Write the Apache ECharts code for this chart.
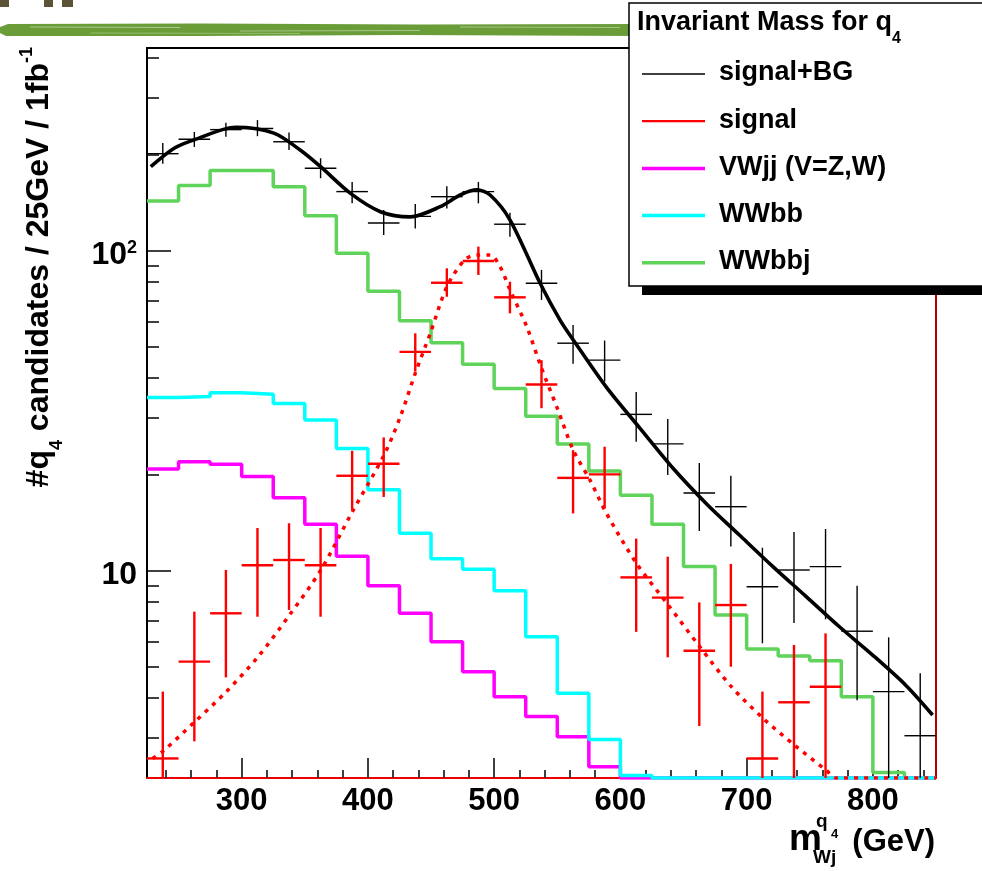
<!DOCTYPE html>
<html>
<head>
<meta charset="utf-8">
<script src="https://cdn.jsdelivr.net/npm/echarts@6/dist/echarts.min.js"></script>
<style>html,body{margin:0;padding:0;background:#fff;}#c{width:982px;height:871px;}</style>
</head>
<body>
<div id="c"></div>
<script>
// ---------------- data ----------------
const BIN_WIDTH = 25;
const binLow = [225,250,275,300,325,350,375,400,425,450,475,500,525,550,575,600,625,650,675,700,725,750,775,800,825];
const histEnd = 850;
const wwbbj = [143,160,178,178,158.5,128.6,98.1,74.7,60.4,51.6,44.2,37.1,30.4,24.9,20.5,17.2,13.96,10.3,7.27,5.69,5.41,5.23,4.04,2.34,2.25];
const wwbb  = [34.8,35.0,36.0,35.6,33.3,29.6,24.1,17.9,13.1,10.9,10.1,8.66,6.22,4.14,2.97,2.29,2.25,2.25,2.25,2.25,2.25,2.25,2.25,2.25,2.25];
const vwjj  = [20.8,21.9,21.5,19.7,16.9,13.96,11.1,8.98,7.36,6.0,4.83,4.04,3.50,3.03,2.44,2.25,2.25,2.25,2.25,2.25,2.25,2.25,2.25,2.25,2.25];

const sigX  = [237.5,262.5,287.5,312.5,337.5,362.5,387.5,412.5,437.5,462.5,487.5,512.5,537.5,562.5,587.5,612.5,637.5,662.5,687.5,712.5,737.5,762.5];
const sigY  = [2.59,5.2,7.36,10.4,10.8,10.4,19.8,21.6,48.3,79.4,92.9,71.5,38.2,19.5,20.0,9.53,8.24,5.62,7.81,2.59,3.88,4.34];
const sigLo = [2.25,2.93,4.64,7.18,7.54,7.18,15.5,17.0,41.9,71.8,84.0,63.7,32.2,15.1,15.7,6.44,5.36,3.27,5.01,2.25,2.25,2.25];
const sigHi = [4.19,7.45,10.05,13.6,14.07,13.6,23.7,26.1,55.2,88.1,103,80,45.5,23.8,24.4,12.6,11.06,7.96,10.5,4.19,5.86,6.37];

const totX  = [237.5,262.5,287.5,312.5,337.5,362.5,387.5,412.5,437.5,462.5,487.5,512.5,537.5,562.5,587.5,612.5,637.5,662.5,687.5,712.5,737.5,762.5,787.5,812.5,837.5];
const totY  = [201,223,239,241,219,181,153,122,128,147.5,153,121,79.1,51.4,45.5,30.8,24.9,17.5,15.85,8.91,10.05,10.3,6.47,4.19,3.05];
const totLo = [187,211,227,228,206.5,168.5,140.6,112,117.4,135.6,140.6,110.6,70.2,44.3,39.0,25.3,19.9,13.3,11.9,5.93,6.86,7.05,3.94,2.25,2.25];
const totHi = [217,235,251,256,234,194.5,164,134,140,159,164,131.5,87.1,58.6,52.4,36.2,29.8,21.7,19.8,11.8,13.2,13.5,8.97,6.19,4.78];

const totFitX = [228,246.5,262.3,295.3,325.5,346.6,362.5,386.2,409.9,433.6,457.3,473.1,486.3,496.8,512.6,536.4,552.2,562.7,589,615.4,641.7,668.1,694.5,720.8,747.2,773.5,799.8,826.2,847.3];
const totFitY = [183,209,222,243,233,206,183,151,132.4,127.6,137.3,149.3,155,149.3,124.7,79.1,60.7,52.6,37.4,27.9,20.9,16.2,12.9,10.3,8.3,6.68,5.45,4.38,3.54];

const sigFitX = [229.4,237.3,262.8,287.9,312.9,337.9,362.7,387.7,412.8,425.7,437.5,449.4,462.6,477.1,487.6,496.8,504.7,512.6,525.8,537,549.6,562.7,575.9,589,612.7,637.8,662.8,687.9,712.9,737.9,763,770.9,800,850];
const sigFitY = [2.59,2.72,3.37,4.19,5.38,7.27,10.05,15.3,23.0,30.3,41.4,55.2,77.2,94.0,97.0,97.0,89.1,75.4,57.9,43.5,32.5,23.8,19.2,15.1,10.55,7.82,5.79,4.34,3.46,2.85,2.38,2.25,2.25,2.25];

const xLabels = [300,400,500,600,700,800];
const xMinorTicks = [240,260,280,320,340,360,380,420,440,460,480,520,540,560,580,620,640,660,680,720,740,760,780,820,840];
const yMajorTicks = [10,100];
const yMinorTicks = [3,4,5,6,7,8,9,20,30,40,50,60,70,80,90,200,300,400];
const X_MIN = 225, X_MAX = 850, Y_MIN = 2.25, Y_MAX = 430;

const legendItems = [
  {name:'signal+BG', color:'#000000', width:1.3},
  {name:'signal', color:'#ff0000', width:2.2},
  {name:'VWjj (V=Z,W)', color:'#ff00ff', width:3.5},
  {name:'WWbb', color:'#00ffff', width:3.5},
  {name:'WWbbj', color:'#5fd35a', width:3.5}
];

// ---------------- helpers ----------------
const FONT = '"Liberation Sans", Arial, Helvetica, sans-serif';
function histData(vals){
  const d = binLow.map((x,i)=>[x, vals[i]]);
  d.push([histEnd, vals[vals.length-1]]);
  return d;
}
function crossRenderer(color, width){
  return function(params, api){
    const x = api.value(0), y = api.value(1), lo = api.value(2), hi = api.value(3);
    const a = api.coord([x - BIN_WIDTH/2, y]);
    const b = api.coord([x + BIN_WIDTH/2, y]);
    const c = api.coord([x, lo]);
    const d = api.coord([x, hi]);
    return {type:'group', children:[
      {type:'line', shape:{x1:a[0],y1:a[1],x2:b[0],y2:b[1]}, style:{stroke:color, lineWidth:width}},
      {type:'line', shape:{x1:c[0],y1:c[1],x2:d[0],y2:d[1]}, style:{stroke:color, lineWidth:width}}
    ]};
  };
}
function isPow10(v){ const l = Math.log10(v); return Math.abs(l - Math.round(l)) < 1e-6; }

// ---------------- legend (graphic) ----------------
const LX = 629, LY = 3;
const legendGraphics = [
  {type:'rect', z:100, shape:{x:642, y:286, width:360, height:9}, style:{fill:'#000'}},
  {type:'rect', z:101, shape:{x:LX, y:LY, width:370, height:283}, style:{fill:'#fff', stroke:'#000', lineWidth:1.5}},
  {type:'text', z:102, x:637, y:23, style:{
    text:'{t|Invariant Mass for q}{s|4}', align:'left', verticalAlign:'middle',
    rich:{
      t:{fontFamily:FONT, fontWeight:'bold', fontSize:27, lineHeight:48, fill:'#000'},
      s:{fontFamily:FONT, fontWeight:'bold', fontSize:16, verticalAlign:'bottom', fill:'#000'}
    }}}
];
legendItems.forEach((it, i)=>{
  const y = 74 + i*47.2;
  legendGraphics.push({type:'line', z:102, shape:{x1:642, y1:y, x2:705, y2:y}, style:{stroke:it.color, lineWidth:it.width}});
  legendGraphics.push({type:'text', z:102, x:719, y:y-1, style:{text:it.name, fontFamily:FONT, fontWeight:'bold', fontSize:27, fill:'#000', align:'left', verticalAlign:'middle'}});
});

// ---------------- decoration & titles ----------------
const decoGraphics = [
  {type:'polygon', z:0, shape:{points:[[0,27],[8,24],[200,23.5],[420,24.5],[640,24],[640,36],[400,35],[200,36],[6,36],[0,33]]}, style:{fill:'#6a9c38'}},
  {type:'line', z:1, shape:{x1:30,y1:27,x2:180,y2:27.5}, style:{stroke:'rgba(255,255,255,0.45)', lineWidth:1}},
  {type:'line', z:1, shape:{x1:240,y1:31,x2:420,y2:30.5}, style:{stroke:'rgba(255,255,255,0.4)', lineWidth:1}},
  {type:'line', z:1, shape:{x1:460,y1:27,x2:620,y2:27.5}, style:{stroke:'rgba(255,255,255,0.4)', lineWidth:1}},
  {type:'line', z:1, shape:{x1:90,y1:33,x2:300,y2:33.5}, style:{stroke:'rgba(180,210,150,0.6)', lineWidth:1}},
  {type:'rect', z:1, shape:{x:0,y:0,width:9,height:7}, style:{fill:'#5b5238'}},
  {type:'rect', z:1, shape:{x:44,y:0,width:9,height:7}, style:{fill:'#5b5238'}},
  {type:'rect', z:1, shape:{x:62,y:0,width:11,height:7}, style:{fill:'#5b5238'}},
  // y axis title
  {type:'text', z:50, x:39, y:47, rotation:Math.PI/2, style:{
    text:'{n|#q}{s|4}{n| candidates / 25GeV / 1fb}{p|-1}', align:'right', verticalAlign:'middle',
    rich:{
      n:{fontFamily:FONT, fontWeight:'bold', fontSize:32, lineHeight:54, fill:'#000'},
      s:{fontFamily:FONT, fontWeight:'bold', fontSize:18, verticalAlign:'bottom', fill:'#000'},
      p:{fontFamily:FONT, fontWeight:'bold', fontSize:18, verticalAlign:'top', padding:[6,0,0,0], fill:'#000'}
    }}},
  // x axis title
  {type:'text', z:50, x:935, y:842, style:{text:'(GeV)', fontFamily:FONT, fontWeight:'bold', fontSize:31, fill:'#000', align:'right', verticalAlign:'middle'}},
  {type:'text', z:50, x:789, y:840, style:{text:'m', fontFamily:FONT, fontWeight:'bold', fontSize:37, fill:'#000', align:'left', verticalAlign:'middle'}},
  {type:'text', z:50, x:813, y:858, style:{text:'Wj', fontFamily:FONT, fontWeight:'bold', fontSize:19, fill:'#000', align:'left', verticalAlign:'middle'}},
  {type:'text', z:50, x:816, y:822, style:{text:'q', fontFamily:FONT, fontWeight:'bold', fontSize:19, fill:'#000', align:'left', verticalAlign:'middle'}},
  {type:'text', z:50, x:831, y:834, style:{text:'4', fontFamily:FONT, fontWeight:'bold', fontSize:13, fill:'#000', align:'left', verticalAlign:'middle'}}
];

// ---------------- chart ----------------
const chart = echarts.init(document.getElementById('c'), null, {renderer:'canvas'});
const noAxisExtras = {axisLabel:{show:false}, axisTick:{show:false}, splitLine:{show:false}};
chart.setOption({
  animation:false,
  backgroundColor:'#fff',
  grid:{left:147, right:46, top:48, bottom:93, containLabel:false},
  xAxis:[
    {type:'value', min:X_MIN, max:X_MAX, position:'bottom',
     axisLine:{show:true, onZero:false, lineStyle:{color:'#ee0000', width:2}},
     axisTick:{show:true, inside:true, length:20, customValues:xLabels, lineStyle:{color:'#000', width:1.5}},
     axisLabel:{show:true, customValues:xLabels, margin:8, fontFamily:FONT, fontWeight:'bold', fontSize:31, color:'#000'},
     splitLine:{show:false}},
    {type:'value', min:X_MIN, max:X_MAX, position:'bottom', offset:0,
     axisLine:{show:false},
     axisTick:{show:true, inside:true, length:8, customValues:xMinorTicks, lineStyle:{color:'#000', width:1.5}},
     axisLabel:{show:false}, splitLine:{show:false}},
    Object.assign({type:'value', min:X_MIN, max:X_MAX, position:'top', offset:0,
     axisLine:{show:true, onZero:false, lineStyle:{color:'#000', width:2}}}, noAxisExtras)
  ],
  yAxis:[
    {type:'log', logBase:10, min:Y_MIN, max:Y_MAX, position:'left',
     axisLine:{show:true, onZero:false, lineStyle:{color:'#000', width:2}},
     axisTick:{show:true, inside:true, length:24, customValues:yMajorTicks, lineStyle:{color:'#000', width:1.5}},
     axisLabel:{show:true, margin:10, padding:[8,0,0,0],
       formatter:function(v){ if(!isPow10(v)) return ''; const e = Math.round(Math.log10(v)); return e===1 ? '{b|10}' : '{b|10}{s|'+e+'}'; },
       rich:{
         b:{fontFamily:FONT, fontWeight:'bold', fontSize:32, lineHeight:32, verticalAlign:'top', color:'#000'},
         s:{fontFamily:FONT, fontWeight:'bold', fontSize:18, lineHeight:18, verticalAlign:'top', color:'#000'}
       }},
     splitLine:{show:false}},
    {type:'log', logBase:10, min:Y_MIN, max:Y_MAX, position:'left', offset:0,
     axisLine:{show:false},
     axisTick:{show:true, inside:true, length:12, customValues:yMinorTicks, lineStyle:{color:'#000', width:1.5}},
     axisLabel:{show:false}, splitLine:{show:false}},
    Object.assign({type:'log', logBase:10, min:Y_MIN, max:Y_MAX, position:'right', offset:0,
     axisLine:{show:true, onZero:false, lineStyle:{color:'#b00000', width:2}}}, noAxisExtras)
  ],
  series:[
    {name:'WWbbj', type:'line', step:'end', data:histData(wwbbj), symbol:'none', clip:true, z:3,
     lineStyle:{color:'#5fd35a', width:3.5}},
    {name:'VWjj (V=Z,W)', type:'line', step:'end', data:histData(vwjj), symbol:'none', clip:true, z:3,
     lineStyle:{color:'#ff00ff', width:3.5}},
    {name:'WWbb', type:'line', step:'end', data:histData(wwbb), symbol:'none', clip:true, z:3,
     lineStyle:{color:'#00ffff', width:3.5}},
    {name:'signal fit', type:'line', smooth:0.3, data:sigFitX.map((x,i)=>[x, sigFitY[i]]), symbol:'none', clip:true, z:4,
     lineStyle:{color:'#ff0000', width:3.5, type:[4,6]}},
    {name:'signal', type:'custom', renderItem:crossRenderer('#ff0000', 2.4), z:5,
     data:sigX.map((x,i)=>[x, sigY[i], sigLo[i], sigHi[i]]), encode:{x:0, y:1}},
    {name:'signal+BG fit', type:'line', smooth:0.3, data:totFitX.map((x,i)=>[x, totFitY[i]]), symbol:'none', clip:true, z:6,
     lineStyle:{color:'#000', width:3.6}},
    {name:'signal+BG', type:'custom', renderItem:crossRenderer('#000', 1.4), z:7,
     data:totX.map((x,i)=>[x, totY[i], totLo[i], totHi[i]]), encode:{x:0, y:1}}
  ],
  graphic:{elements: decoGraphics.concat(legendGraphics)}
});
</script>
</body>
</html>
